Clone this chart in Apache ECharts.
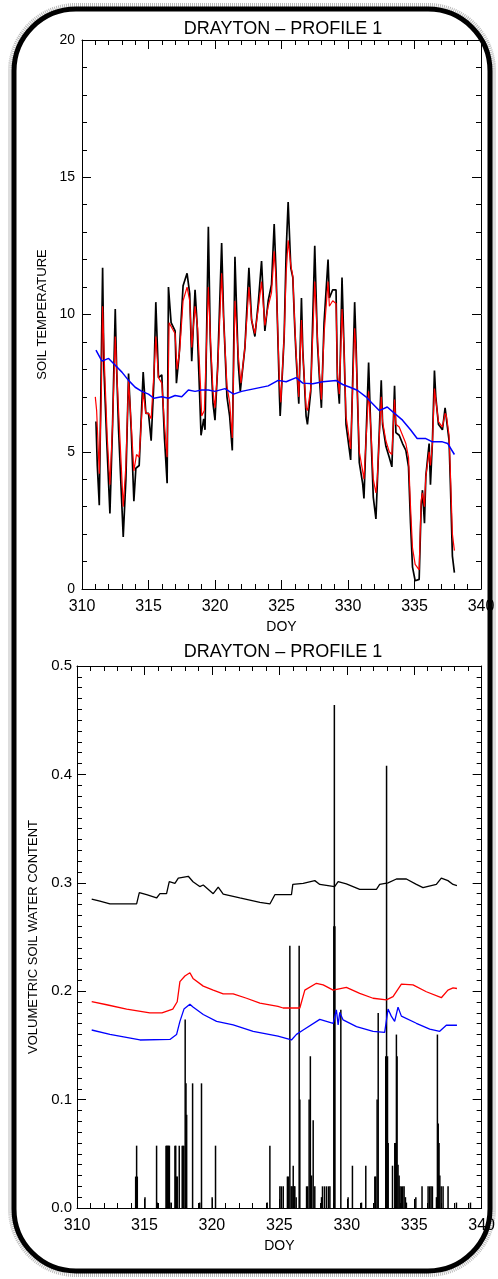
<!DOCTYPE html>
<html>
<head>
<meta charset="utf-8">
<script src="https://cdn.jsdelivr.net/npm/echarts@6/dist/echarts.min.js"></script>
<style>
html,body{margin:0;padding:0;background:#fff;}
#c{width:498px;height:1279px;}
</style>
</head>
<body>
<div id="c"></div>
<script>
// ---------- DATA ----------
const titleText = 'DRAYTON \u2013 PROFILE 1';
const xTicks = [310, 315, 320, 325, 330, 335, 340];
const tempTicks = [0, 5, 10, 15, 20];
const vswcTicks = [0.0, 0.1, 0.2, 0.3, 0.4, 0.5];

// soil temperature, surface (black) [DOY, degC]
const tempBlack = [
[311.05,6.1],[311.15,4.5],[311.3,3.05],[311.4,6.5],[311.55,11.7],[311.65,8.0],[311.85,5.5],[312.1,2.75],[312.3,6.0],[312.5,10.2],
[312.6,8.1],[312.75,5.8],[313.1,1.9],[313.3,4.0],[313.5,7.85],[313.7,5.8],[313.9,3.2],[314.05,4.4],[314.3,4.5],[314.6,7.9],
[314.8,6.4],[315.0,6.4],[315.2,5.4],[315.4,7.5],[315.55,10.45],[315.75,7.7],[316.0,7.8],[316.2,5.5],[316.4,3.85],[316.5,11.0],
[316.7,9.7],[317.0,9.4],[317.1,7.5],[317.3,8.5],[317.6,11.05],[317.9,11.5],[318.1,10.75],[318.25,8.3],[318.5,10.9],[318.65,9.7],
[318.85,7.0],[318.95,5.6],[319.15,6.2],[319.25,5.8],[319.5,13.2],[319.65,9.0],[319.85,6.75],[320.0,6.15],[320.2,8.1],[320.5,12.6],
[320.65,9.9],[320.9,7.0],[321.1,6.3],[321.3,5.05],[321.5,12.1],[321.75,8.2],[321.9,7.2],[322.25,8.8],[322.55,11.7],[322.75,9.8],
[323.0,9.2],[323.25,10.4],[323.5,11.95],[323.75,9.4],[324.0,10.5],[324.25,11.1],[324.45,13.3],[324.6,11.4],[324.85,7.0],[324.9,6.3],
[325.1,8.2],[325.2,9.2],[325.35,12.3],[325.5,14.1],[325.7,11.7],[325.85,11.35],[326.0,9.5],[326.1,8.45],[326.3,6.75],[326.5,10.6],
[326.6,8.7],[326.85,6.3],[326.95,6.0],[327.2,7.2],[327.5,12.5],[327.7,9.0],[327.85,7.7],[328.0,6.6],[328.2,9.7],[328.5,12.0],
[328.6,10.6],[328.85,10.9],[329.1,10.9],[329.2,7.7],[329.35,6.75],[329.55,11.35],[329.7,8.8],[329.85,6.0],[330.2,4.7],[330.5,10.45],
[330.6,9.0],[330.85,4.6],[331.1,3.85],[331.2,3.3],[331.55,8.25],[331.7,6.0],[331.9,3.35],[332.1,2.55],[332.2,3.8],[332.5,7.6],
[332.6,6.0],[332.85,5.2],[333.1,4.8],[333.3,4.45],[333.5,7.4],[333.6,5.7],[333.85,5.6],[334.1,5.3],[334.35,5.05],[334.55,4.45],
[334.7,2.4],[334.85,0.8],[335.05,0.3],[335.35,0.35],[335.5,3.0],[335.6,3.6],[335.75,2.4],[335.85,4.1],[336.1,5.3],[336.2,3.8],
[336.35,5.4],[336.5,7.96],[336.6,7.0],[336.8,6.0],[337.1,5.8],[337.3,6.6],[337.4,6.6],[337.6,5.4],[337.7,3.8],[337.85,1.2],[338.0,0.6]
];

// soil temperature, shallow (red)
const tempRed = [
[311.0,7.0],[311.1,6.5],[311.3,4.2],[311.45,7.0],[311.55,10.3],[311.7,8.0],[311.9,5.5],[312.1,3.8],[312.3,6.0],[312.5,9.2],
[312.65,7.5],[312.85,5.5],[313.1,3.0],[313.3,4.5],[313.5,7.6],[313.7,6.0],[313.9,4.3],[314.1,4.9],[314.3,4.8],[314.6,7.2],
[314.8,6.4],[315.0,6.4],[315.2,6.2],[315.4,7.8],[315.55,9.2],[315.75,7.7],[316.0,7.5],[316.2,6.0],[316.4,4.8],[316.55,9.7],
[316.7,9.7],[317.0,9.3],[317.15,8.0],[317.35,8.7],[317.6,10.5],[317.9,11.0],[318.1,10.5],[318.25,8.8],[318.5,10.3],[318.7,9.5],
[318.9,7.5],[319.0,6.3],[319.2,6.5],[319.3,6.5],[319.5,11.0],[319.65,9.2],[319.85,7.2],[320.0,6.6],[320.2,8.0],[320.5,11.5],
[320.65,9.8],[320.9,7.4],[321.1,6.8],[321.3,5.5],[321.5,10.5],[321.75,8.5],[321.95,7.5],[322.25,8.8],[322.55,11.0],[322.75,9.8],
[323.0,9.3],[323.25,10.2],[323.5,11.2],[323.75,9.6],[324.0,10.3],[324.25,10.8],[324.45,12.3],[324.6,11.2],[324.85,7.5],[324.95,6.8],
[325.1,8.3],[325.2,9.2],[325.35,11.5],[325.5,12.7],[325.7,11.8],[325.85,11.4],[326.0,9.6],[326.1,8.6],[326.3,7.0],[326.5,9.8],
[326.6,8.6],[326.85,6.6],[326.95,6.5],[327.2,7.3],[327.5,11.2],[327.7,9.2],[327.85,7.9],[328.0,6.9],[328.2,9.3],[328.5,11.2],
[328.6,10.3],[328.85,10.5],[329.1,10.4],[329.2,7.9],[329.35,7.1],[329.55,10.2],[329.7,8.8],[329.85,6.3],[330.2,5.1],[330.5,9.5],
[330.6,8.7],[330.85,5.0],[331.1,4.3],[331.2,4.0],[331.55,7.2],[331.7,6.0],[331.9,4.0],[332.1,3.5],[332.2,4.0],[332.5,7.0],
[332.6,6.1],[332.85,5.4],[333.1,5.0],[333.3,4.9],[333.5,6.9],[333.6,6.0],[333.85,5.9],[334.1,5.6],[334.35,5.3],[334.55,4.8],
[334.7,3.0],[334.85,1.5],[335.05,0.9],[335.35,0.7],[335.5,3.2],[335.6,3.5],[335.75,3.0],[335.85,4.1],[336.1,5.0],[336.2,4.5],
[336.35,5.3],[336.5,7.3],[336.6,6.9],[336.8,6.1],[337.1,5.9],[337.3,6.4],[337.4,6.3],[337.6,5.6],[337.7,4.2],[337.85,2.0],[338.0,1.4]
];

// soil temperature, deep (blue)
const tempBlue = [
[311.05,8.7],[311.5,8.3],[312.0,8.4],[312.5,8.15],[313.0,7.9],[313.5,7.6],[314.0,7.35],[314.5,7.2],[315.0,7.1],[315.4,6.95],
[316.0,7.0],[316.5,6.95],[317.0,7.05],[317.5,7.0],[318.0,7.25],[318.5,7.2],[319.0,7.25],[319.5,7.25],[320.0,7.2],[320.75,7.3],
[321.4,7.1],[322.0,7.2],[323.0,7.3],[324.0,7.4],[324.75,7.6],[325.35,7.55],[326.1,7.7],[326.6,7.5],[327.35,7.48],[328.1,7.55],
[329.1,7.6],[329.6,7.45],[330.1,7.36],[330.7,7.24],[331.35,7.0],[331.85,6.75],[332.35,6.5],[332.95,6.63],[333.5,6.4],[334.1,6.15],
[334.7,5.8],[335.2,5.48],[335.85,5.48],[336.35,5.36],[337.1,5.36],[337.5,5.3],[338.0,4.9]
];

// volumetric soil water content [DOY, m3/m3]
const vswcBlack = [
[311.09,0.285],[311.7,0.283],[312.44,0.2805],[314.42,0.2805],[314.62,0.291],[315.16,0.289],[315.9,0.286],[316.15,0.29],[316.64,0.29],[316.84,0.301],
[317.26,0.2995],[317.51,0.3044],[318.25,0.306],[318.6,0.301],[319.1,0.2965],[319.36,0.298],[320.1,0.29],[320.47,0.296],[320.84,0.2895],[322.07,0.286],
[323.56,0.282],[324.3,0.2805],[324.67,0.289],[325.9,0.289],[326.0,0.2985],[326.77,0.2995],[327.63,0.302],[328.0,0.2985],[329.1,0.2965],[329.36,0.301],
[329.97,0.299],[330.96,0.294],[332.2,0.294],[332.44,0.2985],[333.06,0.3],[333.68,0.3035],[334.42,0.3035],[335.16,0.2985],[335.65,0.2955],[336.64,0.2985],
[337.01,0.3044],[337.5,0.302],[337.88,0.2985],[338.17,0.2975]
];
const vswcRed = [
[311.09,0.1903],[312.2,0.1875],[313.68,0.1835],[315.4,0.180],[316.3,0.180],[317.1,0.1835],[317.43,0.1903],[317.63,0.2088],[318.0,0.214],[318.37,0.217],
[318.6,0.2118],[319.36,0.2047],[320.1,0.201],[320.84,0.1975],[321.58,0.1975],[322.57,0.1935],[323.56,0.189],[324.9,0.186],[325.28,0.1845],[326.52,0.1845],
[326.89,0.201],[327.75,0.2073],[328.25,0.2058],[328.99,0.201],[329.97,0.2035],[330.96,0.198],[331.95,0.1935],[332.94,0.192],[333.43,0.195],[334.05,0.2066],
[334.91,0.2058],[335.9,0.1995],[337.01,0.194],[337.5,0.201],[337.88,0.203],[338.17,0.2025]
];
const vswcBlue = [
[311.09,0.1642],[312.44,0.1602],[314.67,0.155],[316.89,0.1555],[317.38,0.16],[317.63,0.1722],[317.93,0.1835],[318.37,0.188],[318.6,0.1855],[319.36,0.1785],
[320.35,0.1722],[321.58,0.169],[323.06,0.163],[324.9,0.1585],[325.04,0.158],[325.9,0.155],[326.27,0.1602],[326.77,0.1642],[328.0,0.174],[328.99,0.1704],
[329.23,0.1828],[329.36,0.169],[329.48,0.1804],[329.73,0.1735],[330.72,0.1673],[331.95,0.163],[332.81,0.162],[333.06,0.1835],[333.3,0.177],[333.55,0.1722],
[333.8,0.1853],[334.05,0.177],[335.16,0.1704],[336.15,0.165],[336.89,0.163],[337.38,0.1686],[338.17,0.1686]
];

// rain-like spikes (black bars) [DOY, value]
const rainBars = [
[314.35,0.029],[314.42,0.0575],[314.47,0.029],[315.04,0.01],[315.9,0.0575],[315.95,0.005],[316.6,0.0575],[316.65,0.0575],[316.72,0.0575],[316.78,0.0575],
[316.85,0.0575],[316.97,0.005],[317.26,0.0575],[317.32,0.0575],[317.38,0.029],[317.43,0.029],[317.58,0.0575],[317.8,0.0575],[317.86,0.0575],[317.92,0.0575],
[318.02,0.174],[318.08,0.115],[318.13,0.086],[318.57,0.115],[319.1,0.005],[319.23,0.115],[320.02,0.01],[320.27,0.0575],[324.1,0.005],[324.3,0.0575],
[325.04,0.02],[325.15,0.02],[325.29,0.02],[325.6,0.029],[325.66,0.029],[325.78,0.242],[325.88,0.02],[325.95,0.02],[326.03,0.039],[326.1,0.02],
[326.15,0.02],[326.25,0.01],[326.47,0.242],[326.52,0.1],[327.02,0.02],[327.1,0.02],[327.21,0.1],[327.3,0.14],[327.39,0.03],[327.51,0.081],
[327.63,0.02],[328.13,0.01],[328.2,0.02],[328.35,0.02],[328.5,0.02],[328.65,0.02],[328.75,0.02],[329.04,0.26],[329.08,0.464],[329.12,0.26],
[329.56,0.183],[330.1,0.01],[330.42,0.039],[331.09,0.005],[331.41,0.039],[332.08,0.029],[332.15,0.029],[332.25,0.1],[332.33,0.18],[332.89,0.14],
[332.95,0.408],[333.02,0.14],[333.07,0.06],[333.39,0.039],[333.56,0.06],[333.62,0.06],[333.68,0.16],[333.73,0.14],[333.8,0.04],[333.88,0.03],
[333.95,0.02],[334.05,0.02],[334.15,0.02],[334.25,0.02],[334.35,0.01],[334.42,0.005],[335.12,0.01],[335.58,0.02],[336.03,0.02],[336.15,0.02],
[336.25,0.02],[336.35,0.02],[336.65,0.01],[336.72,0.16],[336.78,0.078],[336.84,0.06],[336.9,0.03],[337.0,0.02],[337.14,0.02],[337.51,0.02],
[338.13,0.005],[339.17,0.005]
];

// ---------- CHART ----------
const FONT = 'Liberation Sans';
const chart = echarts.init(document.getElementById('c'), null, {renderer: 'canvas'});

function xAxisDef(gi, showLabels, pos) {
  return {
    type: 'value', gridIndex: gi, position: pos, min: 310, max: 340, interval: 5,
    axisLine: {show: true, onZero: false, lineStyle: {color: '#000', width: 1}},
    axisTick: {show: true, inside: true, length: 9, lineStyle: {color: '#000'}},
    minorTick: {show: true, splitNumber: 5, length: 5, lineStyle: {color: '#000'}},
    splitLine: {show: false},
    axisLabel: {show: showLabels, color: '#000', fontFamily: FONT, fontSize: 16, margin: 10},
    name: showLabels ? 'DOY' : '', nameLocation: 'middle', nameGap: 31,
    nameTextStyle: {color: '#000', fontFamily: FONT, fontSize: 14}
  };
}
function yAxisDef(gi, showLabels, pos, max, interval, minorSplit, name, fmt, nameGap, fs, margin) {
  return {
    type: 'value', gridIndex: gi, position: pos, min: 0, max: max, interval: interval,
    axisLine: {show: true, onZero: false, lineStyle: {color: '#000', width: 1}},
    axisTick: {show: true, inside: true, length: 9, lineStyle: {color: '#000'}},
    minorTick: {show: true, splitNumber: minorSplit, length: 5, lineStyle: {color: '#000'}},
    splitLine: {show: false},
    axisLabel: {show: showLabels, color: '#000', fontFamily: FONT, fontSize: fs, margin: margin, formatter: fmt},
    name: showLabels ? name : '', nameLocation: 'middle', nameGap: nameGap, nameRotate: 90,
    nameTextStyle: {color: '#000', fontFamily: FONT, fontSize: 13}
  };
}

const option = {
  animation: false,
  backgroundColor: '#fff',
  title: [
    {text: titleText, left: 278, top: 15, textAlign: 'center',
     textStyle: {color: '#000', fontFamily: FONT, fontSize: 18, fontWeight: 'normal'}},
    {text: titleText, left: 278, top: 638, textAlign: 'center',
     textStyle: {color: '#000', fontFamily: FONT, fontSize: 18, fontWeight: 'normal'}}
  ],
  graphic: [
    {type: 'rect', z: -1, shape: {x: 10, y: 5, width: 484, height: 1270, r: 66},
     style: {fill: 'none', stroke: '#bbb', lineWidth: 4, lineDash: [1, 1]}},
    {type: 'rect', z: 0, shape: {x: 14, y: 9, width: 476, height: 1262, r: 62},
     style: {fill: 'none', stroke: '#000', lineWidth: 5}}
  ],
  grid: [
    {left: 82, top: 40, width: 399, height: 549},
    {left: 77, top: 666, width: 405, height: 542}
  ],
  xAxis: [
    xAxisDef(0, true, 'bottom'), xAxisDef(0, false, 'top'),
    xAxisDef(1, true, 'bottom'), xAxisDef(1, false, 'top')
  ],
  yAxis: [
    yAxisDef(0, true, 'left', 20, 5, 5, 'SOIL TEMPERATURE', v => String(v), 20, 14, 7),
    yAxisDef(0, false, 'right', 20, 5, 5, '', v => String(v), 20, 14, 7),
    yAxisDef(1, true, 'left', 0.5, 0.1, 10, 'VOLUMETRIC SOIL WATER CONTENT', v => v.toFixed(1), 32, 15, 5),
    yAxisDef(1, false, 'right', 0.5, 0.1, 10, '', v => v.toFixed(1), 32, 15, 5)
  ],
  series: [
    {type: 'line', xAxisIndex: 0, yAxisIndex: 0, data: tempBlack, showSymbol: false,
     lineStyle: {color: '#000', width: 1.7}, z: 2},
    {type: 'line', xAxisIndex: 0, yAxisIndex: 0, data: tempRed, showSymbol: false,
     lineStyle: {color: '#ff0000', width: 1.2}, z: 3},
    {type: 'line', xAxisIndex: 0, yAxisIndex: 0, data: tempBlue, showSymbol: false,
     lineStyle: {color: '#0000ff', width: 1.5}, z: 4},
    {type: 'bar', xAxisIndex: 2, yAxisIndex: 2, data: rainBars, barWidth: 1.5,
     itemStyle: {color: '#000'}, z: 2},
    {type: 'line', xAxisIndex: 2, yAxisIndex: 2, data: vswcBlack, showSymbol: false,
     lineStyle: {color: '#000', width: 1.3}, z: 3},
    {type: 'line', xAxisIndex: 2, yAxisIndex: 2, data: vswcRed, showSymbol: false,
     lineStyle: {color: '#ff0000', width: 1.3}, z: 3},
    {type: 'line', xAxisIndex: 2, yAxisIndex: 2, data: vswcBlue, showSymbol: false,
     lineStyle: {color: '#0000ff', width: 1.3}, z: 3}
  ]
};
chart.setOption(option);
</script>
</body>
</html>
